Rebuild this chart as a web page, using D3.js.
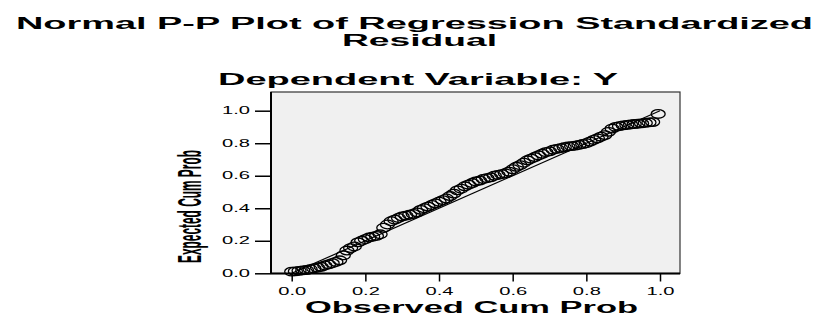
<!DOCTYPE html>
<html>
<head>
<meta charset="utf-8">
<script src="https://cdn.jsdelivr.net/npm/d3@7"></script>
<style>
  body { margin: 0; background: #fff; }
  svg { display: block; font-family: Arial, "Liberation Sans", sans-serif; }
</style>
</head>
<body>
<svg id="chartSVG" width="823" height="318"></svg>
<script>
// observed cum prob (x) and expected cum prob (y)
var observed = [0.000, 0.010, 0.020, 0.030, 0.040, 0.050, 0.060, 0.070, 0.080, 0.090,
  0.100, 0.110, 0.120, 0.130, 0.140, 0.150, 0.160, 0.170, 0.180, 0.190,
  0.200, 0.210, 0.220, 0.230, 0.240, 0.250, 0.260, 0.270, 0.280, 0.290,
  0.300, 0.310, 0.320, 0.330, 0.340, 0.350, 0.360, 0.370, 0.380, 0.390,
  0.400, 0.410, 0.420, 0.430, 0.440, 0.450, 0.460, 0.470, 0.480, 0.490,
  0.500, 0.510, 0.520, 0.530, 0.540, 0.550, 0.560, 0.570, 0.580, 0.590,
  0.600, 0.610, 0.620, 0.630, 0.640, 0.650, 0.660, 0.670, 0.680, 0.690,
  0.700, 0.710, 0.720, 0.730, 0.740, 0.750, 0.760, 0.770, 0.780, 0.790,
  0.800, 0.810, 0.820, 0.830, 0.840, 0.850, 0.860, 0.870, 0.880, 0.890,
  0.900, 0.910, 0.920, 0.930, 0.940, 0.950, 0.960, 0.970, 0.980, 0.995];
var expected = [0.010, 0.012, 0.015, 0.018, 0.020, 0.025, 0.030, 0.035, 0.040, 0.048,
  0.055, 0.062, 0.070, 0.080, 0.110, 0.140, 0.155, 0.165, 0.190, 0.200,
  0.210, 0.220, 0.225, 0.230, 0.240, 0.280, 0.300, 0.320, 0.330, 0.340,
  0.350, 0.355, 0.360, 0.365, 0.375, 0.390, 0.400, 0.410, 0.420, 0.430,
  0.440, 0.450, 0.460, 0.475, 0.490, 0.510, 0.520, 0.535, 0.545, 0.555,
  0.565, 0.570, 0.580, 0.585, 0.590, 0.600, 0.605, 0.610, 0.615, 0.625,
  0.640, 0.655, 0.665, 0.680, 0.695, 0.705, 0.715, 0.725, 0.735, 0.745,
  0.750, 0.760, 0.765, 0.770, 0.775, 0.780, 0.782, 0.785, 0.790, 0.795,
  0.800, 0.810, 0.820, 0.830, 0.840, 0.850, 0.870, 0.890, 0.900, 0.905,
  0.910, 0.912, 0.915, 0.918, 0.920, 0.922, 0.925, 0.928, 0.930, 0.980];
var tickValues = [0.0, 0.2, 0.4, 0.6, 0.8, 1.0];
var titleLines = ["Normal P-P Plot of Regression Standardized", "Residual"];
var subTitle = "Dependent Variable: Y";
var xLabel = "Observed Cum Prob";
var yLabel = "Expected Cum Prob";

drawChart("#chartSVG");

function drawChart(elm) {
  var svg = d3.select(elm);
  // plot frame (pixels)
  var frame = { left: 271, right: 680, top: 92, bottom: 273.5 };

  var x = d3.scaleLinear().domain([0, 1]).range([291.7, 660]);
  var y = d3.scaleLinear().domain([0, 1]).range([273.3, 110.7]);

  // titles (stretched wide like the original)
  svg.append("text")
    .attr("x", 16).attr("y", 29)
    .attr("textLength", 797).attr("lengthAdjust", "spacingAndGlyphs")
    .style("font-size", "16px").style("font-weight", "bold")
    .text(titleLines[0]);
  svg.append("text")
    .attr("x", 342).attr("y", 46)
    .attr("textLength", 155).attr("lengthAdjust", "spacingAndGlyphs")
    .style("font-size", "16px").style("font-weight", "bold")
    .text(titleLines[1]);
  svg.append("text")
    .attr("x", 218).attr("y", 85)
    .attr("textLength", 400).attr("lengthAdjust", "spacingAndGlyphs")
    .style("font-size", "16px").style("font-weight", "bold")
    .text(subTitle);

  // background
  svg.append("rect")
    .attr("x", frame.left).attr("y", frame.top)
    .attr("width", frame.right - frame.left)
    .attr("height", frame.bottom - frame.top)
    .attr("fill", "#f0f0f0")
    .attr("stroke", "#333")
    .attr("stroke-width", 1.2);

  // diagonal reference line
  svg.append("line")
    .attr("x1", x(0)).attr("y1", y(0))
    .attr("x2", x(1)).attr("y2", y(1))
    .attr("stroke", "#000").attr("stroke-width", 1.2);

  // points
  svg.append("g")
    .selectAll("ellipse")
    .data(observed.map((d, i) => [d, expected[i]]))
    .join("ellipse")
    .attr("cx", d => x(d[0]))
    .attr("cy", d => y(d[1]))
    .attr("rx", 7)
    .attr("ry", 4.3)
    .attr("fill", "none")
    .attr("stroke", "#000")
    .attr("stroke-width", 1.3);

  // axes
  var yAxis = svg.append("g")
    .attr("transform", `translate(${frame.left},0)`)
    .call(d3.axisLeft(y).tickValues(tickValues).tickSize(16).tickPadding(5).tickFormat(d3.format(".1f")));
  var xAxis = svg.append("g")
    .attr("transform", `translate(0,${frame.bottom})`)
    .call(d3.axisBottom(x).tickValues(tickValues).tickSize(8).tickPadding(6).tickFormat(d3.format(".1f")));
  [xAxis, yAxis].forEach(function (g) {
    g.select(".domain").remove();
    g.selectAll(".tick line").attr("stroke", "#000").attr("stroke-width", 1.5);
    g.selectAll(".tick text")
      .attr("fill", "#000")
      .style("font-size", "10px")
      .style("font-family", "Arial, 'Liberation Sans', sans-serif")
      .attr("textLength", 28)
      .attr("lengthAdjust", "spacingAndGlyphs");
  });

  // heavy left and bottom axis lines
  svg.append("line")
    .attr("x1", frame.left).attr("x2", frame.left)
    .attr("y1", frame.top).attr("y2", frame.bottom)
    .attr("stroke", "#000").attr("stroke-width", 2);
  svg.append("line")
    .attr("x1", frame.left).attr("x2", frame.right)
    .attr("y1", frame.bottom).attr("y2", frame.bottom)
    .attr("stroke", "#000").attr("stroke-width", 2);

  // axis titles
  svg.append("text")
    .attr("x", 305).attr("y", 313)
    .attr("textLength", 333).attr("lengthAdjust", "spacingAndGlyphs")
    .style("font-size", "16px").style("font-weight", "bold")
    .text(xLabel);
  // y title: narrow along the axis, tall across it
  var yt = svg.append("text")
    .style("font-size", "20px").style("font-weight", "bold")
    .text(yLabel);
  var natural = yt.node().getComputedTextLength();
  yt.attr("transform", `translate(201,263) rotate(-90) scale(${113 / natural},1.7)`);
}
</script>
</body>
</html>
